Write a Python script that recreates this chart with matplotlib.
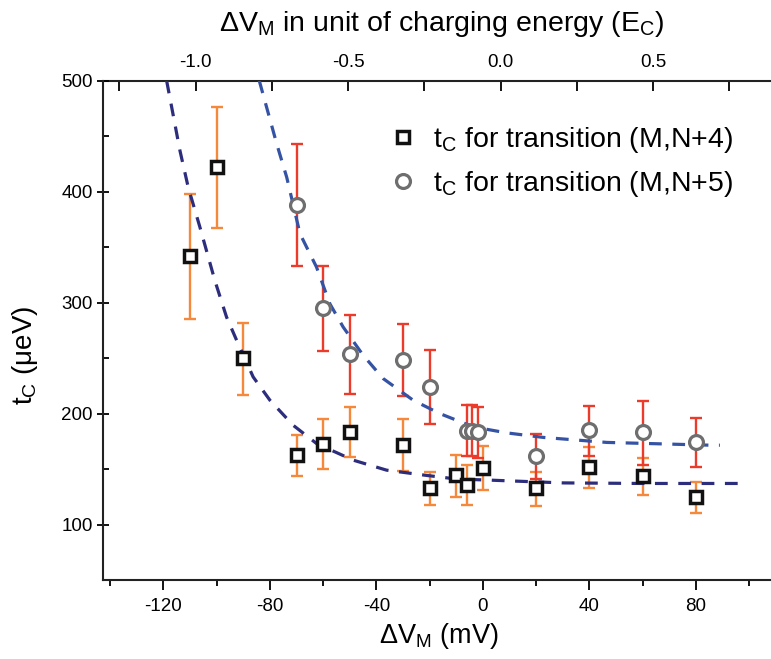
import matplotlib
matplotlib.use("Agg")
import matplotlib.pyplot as plt
from matplotlib.ticker import MultipleLocator, FixedLocator, FormatStrFormatter

plt.rcParams['font.family'] = ['Liberation Sans', 'DejaVu Sans']
plt.rcParams['axes.unicode_minus'] = False

# (M,N+4) squares
x4 = [-110, -100, -90, -70, -60, -50, -30, -20, -10, -6, 0, 20, 40, 60, 80]
t4 = [342, 422, 250, 163, 173, 183, 172, 133, 145, 136, 151, 133, 152, 144, 125]
hi4 = [398, 476, 282, 181, 195, 206, 195, 147, 163, 154, 171, 147, 170, 160, 138]
lo4 = [285, 367, 217, 144, 150, 161, 148, 118, 125, 118, 131, 117, 133, 127, 110]

# (M,N+5) circles
x5 = [-70, -60, -50, -30, -20, -6, -4, -2, 20, 40, 60, 80]
t5 = [388, 295, 254, 248, 224, 184, 184, 183, 162, 185, 183, 174]
hi5 = [443, 333, 289, 281, 257, 208, 208, 206, 182, 207, 211, 196]
lo5 = [333, 256, 218, 216, 191, 162, 162, 160, 141, 162, 154, 152]

# dashed guide curves
fit4_x = [-118.8, -113.8, -110.7, -106.3, -100.7, -96.3, -92.5, -86.3, -80, -71.3,
          -62.5, -48.7, -36.2, -22, -9.9, 2.6, 30.2, 60, 99]
fit4_y = [500, 437, 404, 368, 320, 287, 266, 233, 212, 189.5,
          173, 158, 149, 144.5, 141, 140, 137.5, 137, 137]
fit5_x = [-84, -77.5, -73.7, -68.7, -62.5, -57.5, -52.5, -45, -37.5, -26.2,
          -16.2, -3.6, 8.9, 22.7, 46.5, 85.3, 89]
fit5_y = [500, 443.5, 413, 362, 332, 299, 278, 252.6, 231.6, 212,
          200, 188, 182.6, 178.5, 174, 171.5, 171.5]

# top axis: mV -> charging energy units
ec_mv = 114.5
ec_off = 6.6
ec_major = [-1.0, -0.5, 0.0, 0.5]
ec_minor = [-1.25, -0.75, -0.25, 0.25, 0.75]

fig = plt.figure(figsize=(7.71, 6.59), dpi=100)
ax = fig.add_axes([0.1336, 0.1199, 0.8664, 0.7576])

err4 = [[t - l for t, l in zip(t4, lo4)], [h - t for t, h in zip(t4, hi4)]]
err5 = [[t - l for t, l in zip(t5, lo5)], [h - t for t, h in zip(t5, hi5)]]

ax.errorbar(x4, t4, yerr=err4, fmt='none', ecolor='#f5883a', elinewidth=1.7,
            capsize=4.5, capthick=1.7, zorder=2)
ax.errorbar(x5, t5, yerr=err5, fmt='none', ecolor='#ec3b2a', elinewidth=1.7,
            capsize=4.5, capthick=1.7, zorder=2)

ax.plot(fit4_x, fit4_y, color='#2d2d7d', lw=2.3, ls=(0, (4, 3.3)), zorder=3)
ax.plot(fit5_x, fit5_y, color='#3553a5', lw=2.3, ls=(0, (4, 3.3)), zorder=3)

ax.plot(x4, t4, 's', ms=8.5, mfc='white', mec='#111111', mew=2.5, zorder=4,
        label=r'$\mathregular{t_C}$ for transition (M,N+4)')
ax.plot(x5, t5, 'o', ms=10, mfc='white', mec='#6e6e6e', mew=2.3, zorder=4,
        label=r'$\mathregular{t_C}$ for transition (M,N+5)')

ax.set_xlim(-142.7, 108.2)
ax.set_ylim(50, 500)
ax.xaxis.set_major_locator(MultipleLocator(40))
ax.xaxis.set_minor_locator(MultipleLocator(20))
ax.yaxis.set_major_locator(MultipleLocator(100))
ax.yaxis.set_minor_locator(MultipleLocator(50))

ax.spines['right'].set_visible(False)
ax.spines['top'].set_visible(False)
for s in ['left', 'bottom']:
    ax.spines[s].set_linewidth(1.5)
    ax.spines[s].set_color('#222222')

ax.tick_params(axis='x', which='major', direction='out', length=7, width=1.3,
               labelsize=13.5, pad=6)
ax.tick_params(axis='x', which='minor', direction='out', length=4, width=1.3)
ax.tick_params(axis='y', which='major', direction='inout', length=9, width=1.3,
               labelsize=13.5, pad=3)
ax.tick_params(axis='y', which='minor', direction='in', length=4, width=1.3)

top = ax.secondary_xaxis('top', functions=(lambda v: (v - ec_off) / ec_mv,
                                           lambda e: e * ec_mv + ec_off))
top.xaxis.set_major_locator(FixedLocator(ec_major))
top.xaxis.set_minor_locator(FixedLocator(ec_minor))
top.xaxis.set_major_formatter(FormatStrFormatter('%.1f'))
top.spines['top'].set_linewidth(1.5)
top.spines['top'].set_color('#222222')
top.tick_params(which='major', direction='in', length=7, width=1.3, labelsize=13.5, pad=7)
top.tick_params(which='minor', direction='in', length=7, width=1.3)

fig.text(442 / 771, 1 - 31 / 659,
         r'$\mathregular{\Delta V_M}$ in unit of charging energy ($\mathregular{E_C}$)',
         fontsize=20.5, ha='center', va='baseline')
fig.text(439 / 771, 1 - 643 / 659, r'$\mathregular{\Delta V_M}$ (mV)',
         fontsize=19.5, ha='center', va='baseline')
fig.text(25 / 771, 1 - 355 / 659, r'$\mathregular{t_C}$ ($\mathregular{\mu}$eV)',
         fontsize=20, ha='center', va='center', rotation=90)

ax.legend(loc='upper left', bbox_to_anchor=(0.428, 0.911), frameon=False, fontsize=20.5,
          handletextpad=0.55, labelspacing=0.48, handlelength=1.0,
          borderpad=0, borderaxespad=0)

fig.savefig('out.png', dpi=100)
